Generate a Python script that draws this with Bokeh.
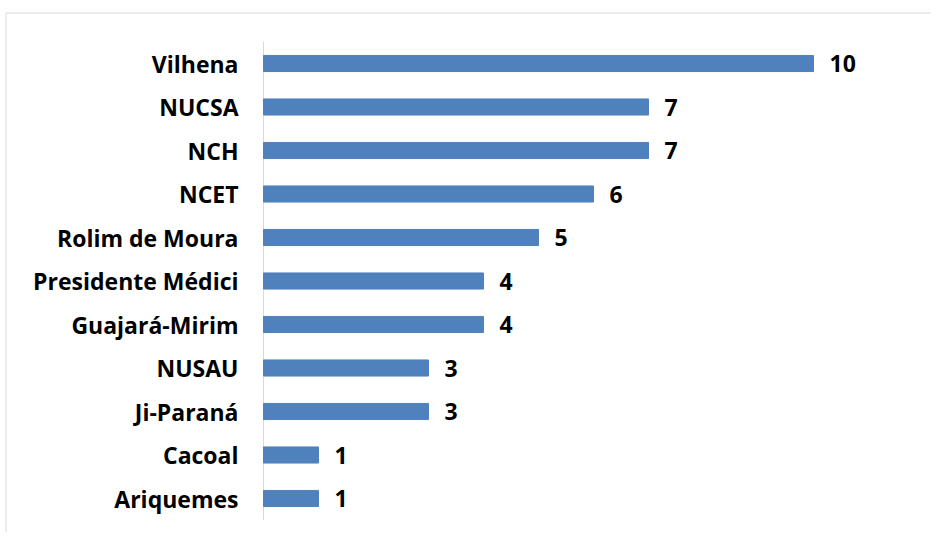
from bokeh.plotting import figure
from bokeh.models import ColumnDataSource, Range1d
from bokeh.embed import file_html
from bokeh.resources import INLINE
from bokeh.core.properties import value

campi = ["Vilhena", "NUCSA", "NCH", "NCET", "Rolim de Moura", "Presidente Médici",
         "Guajará-Mirim", "NUSAU", "Ji-Paraná", "Cacoal", "Ariquemes"]
valores = [10, 7, 7, 6, 5, 4, 4, 3, 3, 1, 1]
rotulos = [str(v) for v in valores]
posicao = list(range(len(campi)))  # 0 = top row

W, H = 931, 532
FONT = "Open Sans"
X0 = 263.0       # screen x of value 0
PXU = 55.0       # px per unit on x
Y0 = 63.0        # screen y of first row
PYU = 43.5       # px per row

x_start = -X0 / PXU
x_end = (W - X0) / PXU
y_top = -Y0 / PYU
y_bot = y_top + H / PYU

src = ColumnDataSource(dict(campus=campi, valor=valores, rotulo=rotulos, pos=posicao,
                            zero=[0] * len(campi)))

p = figure(width=W, height=H,
           x_range=Range1d(x_start, x_end), y_range=Range1d(y_bot, y_top),
           x_axis_location=None, y_axis_location=None,
           output_backend="svg", toolbar_location=None,
           min_border=0, min_border_left=0, min_border_right=0,
           min_border_top=0, min_border_bottom=0)
p.outline_line_color = None
p.xgrid.grid_line_color = None
p.ygrid.grid_line_color = None

# chart-area border (left and top edges visible)
bx = (5.5 - X0) / PXU
by = y_top + 12.5 / PYU
p.segment(x0=[bx, bx], y0=[by, by], x1=[x_end + 1, bx], y1=[by, y_bot + 1],
          line_color="#d9d9d9", line_width=1)

# category axis line
n = len(campi)
p.segment(x0=[0], y0=[-0.5], x1=[0], y1=[n - 0.5], line_color="#d9d9d9", line_width=1)

p.hbar(y="pos", left=0, right="valor", height=0.37, color="#4F81BD", source=src)

p.text(x="zero", y="pos", text="campus", x_offset=-25, text_baseline="middle",
       text_align="right", text_font=value(FONT), text_font_style="bold",
       text_font_size="23px", text_color="black", source=src)

p.text(x="valor", y="pos", text="rotulo", x_offset=16, text_baseline="middle",
       text_align="left", text_font=value(FONT), text_font_style="bold",
       text_font_size="23px", text_color="black", source=src)

open("out.html", "w").write(file_html(p, INLINE))
